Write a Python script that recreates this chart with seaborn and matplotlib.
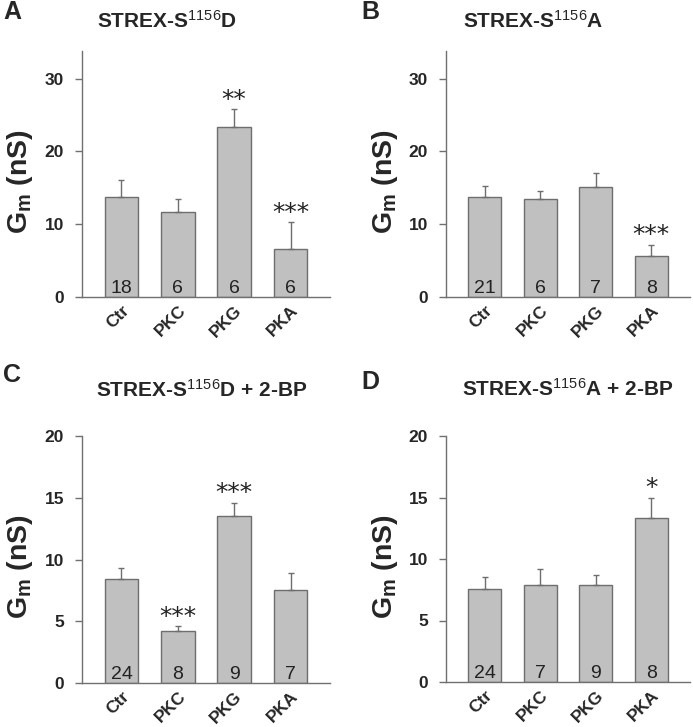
import numpy as np
import pandas as pd
import matplotlib
matplotlib.use("Agg")
import matplotlib.pyplot as plt
import seaborn as sns

# ---- data ----
groups = ["Ctr", "PKC", "PKG", "PKA"]

mean_a = [13.7, 11.7, 23.4, 6.6]
top_a = [16.1, 13.4, 25.8, 10.3]
n_a = [18, 6, 6, 6]
stars_a = ["", "", "**", "***"]

mean_b = [13.7, 13.5, 15.1, 5.6]
top_b = [15.2, 14.6, 17.1, 7.2]
n_b = [21, 6, 7, 8]
stars_b = ["", "", "", "***"]

mean_c = [8.4, 4.2, 13.5, 7.5]
top_c = [9.3, 4.6, 14.6, 8.9]
n_c = [24, 8, 9, 7]
stars_c = ["", "***", "***", ""]

mean_d = [7.6, 7.9, 7.9, 13.3]
top_d = [8.5, 9.2, 8.7, 15.0]
n_d = [24, 7, 9, 8]
stars_d = ["", "", "", "*"]

titles = [r"STREX-S$^{\mathrm{1156}}$D", r"STREX-S$^{\mathrm{1156}}$A",
          r"STREX-S$^{\mathrm{1156}}$D + 2-BP", r"STREX-S$^{\mathrm{1156}}$A + 2-BP"]
letters = ["A", "B", "C", "D"]

# ---- style ----
sns.set_style("ticks")
plt.rcParams['font.family'] = ['Liberation Sans', 'DejaVu Sans']
plt.rcParams['mathtext.fontset'] = 'custom'
plt.rcParams['mathtext.rm'] = 'Liberation Sans'
plt.rcParams['mathtext.bf'] = 'Liberation Sans:bold'
plt.rcParams['mathtext.it'] = 'Liberation Sans:bold'

bar_col = "#c0c0c0"
edge_col = "#6e6e6e"
axis_col = "#707070"

W, H = 693, 727
fig = plt.figure(figsize=(W / 100, H / 100), dpi=100)

# axes boxes in pixels: (left, right, top, bottom)
boxes = [(82, 330, 51, 297), (446, 690, 51, 297),
         (82, 330, 436, 683), (446, 690, 436, 682)]
title_pos = [(167, 21), (533, 21), (202, 390), (568, 389)]
letter_pos = [(3, 12), (361, 12), (3, 375), (361, 382)]

panels = [(mean_a, top_a, n_a, stars_a, 33.8, [0, 10, 20, 30]),
          (mean_b, top_b, n_b, stars_b, 33.8, [0, 10, 20, 30]),
          (mean_c, top_c, n_c, stars_c, 20, [0, 5, 10, 15, 20]),
          (mean_d, top_d, n_d, stars_d, 20, [0, 5, 10, 15, 20])]

for k, (means, tops, ns, stars, ymax, yt) in enumerate(panels):
    l, r, t, b = boxes[k]
    ax = fig.add_axes([l / W, 1 - b / H, (r - l) / W, (b - t) / H])
    df = pd.DataFrame({"group": groups, "gm": means})
    sns.barplot(data=df, x="group", y="gm", ax=ax, color=bar_col, width=0.6,
                edgecolor=edge_col, linewidth=1.0, saturation=1, errorbar=None)
    up = np.array(tops) - np.array(means)
    ax.errorbar(range(4), means, yerr=[np.zeros(4), up], fmt="none",
                ecolor=edge_col, elinewidth=1.0, capsize=2.5, capthick=1.0)
    for i in range(4):
        ax.annotate(str(ns[i]), (i, 0), xytext=(0, 0), textcoords="offset points",
                    ha="center", va="bottom", fontsize=14, color="#222222")
        if stars[i]:
            ax.annotate(stars[i], (i, tops[i]), xytext=(0, -2), textcoords="offset points",
                        ha="center", va="bottom", fontsize=18, color="#222222",
                        family="DejaVu Sans")
    ax.set_xlim(-0.7, 3.7)
    ax.set_ylim(0, ymax)
    ax.set_yticks(yt)
    ax.set_xlabel("")
    ax.set_ylabel(r"$\mathbf{G_m}$ (nS)", fontsize=20.5, fontweight="bold")
    ax.yaxis.set_label_coords(-0.19, 0.47)
    sns.despine(ax=ax)
    for s in ["left", "bottom"]:
        ax.spines[s].set_color(axis_col)
        ax.spines[s].set_linewidth(1.0)
    ax.tick_params(axis="y", length=5, width=1.0, color=axis_col, pad=8,
                   labelsize=12.5)
    ax.tick_params(axis="x", length=0, pad=4, labelsize=12.5)
    for lab in ax.get_yticklabels():
        lab.set_fontweight("bold")
    for lab in ax.get_xticklabels():
        lab.set_fontweight("bold")
        lab.set_rotation(45)
        lab.set_ha("right")
        lab.set_va("top")
        lab.set_rotation_mode("anchor")

    tx, ty = title_pos[k]
    fig.text(tx / W, 1 - ty / H, titles[k], ha="center", va="center",
             fontsize=15, fontweight="bold")
    lx, ly = letter_pos[k]
    fig.text(lx / W, 1 - ly / H, letters[k], ha="left", va="center",
             fontsize=18, fontweight="bold")

fig.savefig("out.png", dpi=100)
